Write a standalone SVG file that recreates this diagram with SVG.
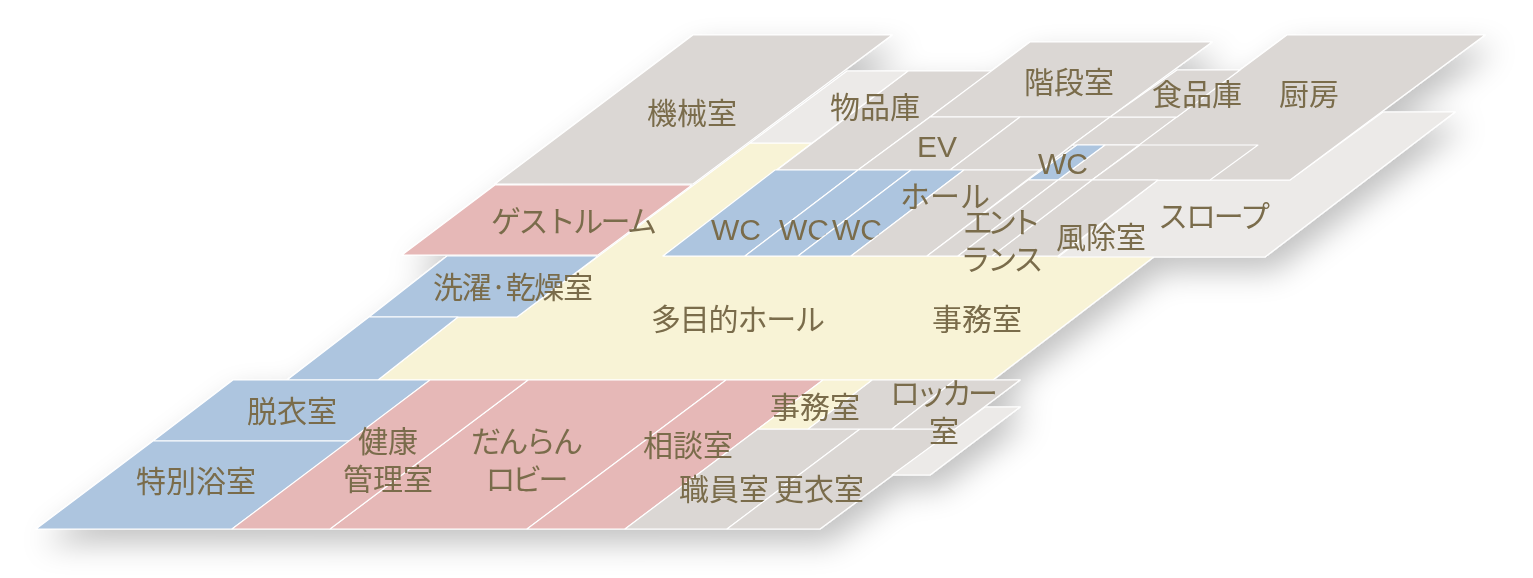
<svg xmlns="http://www.w3.org/2000/svg" width="1533" height="578" viewBox="0 0 1533 578">
<style>
polygon{stroke:#fff;stroke-width:1.1;stroke-linejoin:round}
.g{fill:#dbd7d4}.l{fill:#eceae8}.y{fill:#f8f3d6}.b{fill:#adc5df}.p{fill:#e6b8b7}
text{font-family:"Noto Sans CJK JP","Noto Sans",sans-serif;font-size:30px;fill:#7a6c4b;text-anchor:middle}
text.lat{font-family:"Liberation Sans",Arial,sans-serif}
</style>
<defs>
<filter id="sh" filterUnits="userSpaceOnUse" x="0" y="0" width="1533" height="578">
<feDropShadow dx="9" dy="14" stdDeviation="15" flood-color="#000" flood-opacity="0.24"/>
</filter>
</defs>
<rect width="1533" height="578" fill="#fff"/>
<g id="plan" filter="url(#sh)">
<g id="room-hall-main"><polygon class="y" points="750,143 812,143 663,256 1155,256 993,380 378,380 458,317 517,317"/><text x="738" y="330" textLength="174">多目的ホール</text><text x="977" y="330">事務室</text></g>
<g id="room-machine"><polygon class="g" points="693,35 892,35 693,184 495,184"/><text x="692" y="124">機械室</text></g>
<g id="room-storage"><polygon class="g" points="908,71 992,71 858,170 777,170"/><polygon class="l" points="847,71 908,71 812,143 750,143"/><text x="875" y="118">物品庫</text></g>
<g id="room-stairs"><polygon class="g" points="1030,42 1212,42 1110,117 930,117"/><text x="1069" y="93">階段室</text></g>
<g id="room-ev"><polygon class="g" points="930,117 1020,117 950,170 858,170"/><text class="lat" x="937" y="157">EV</text></g>
<g id="room-service"><polygon class="g" points="1020,117 1110,117 1072,145 1040,170 950,170"/><polygon class="g" points="1110,117 1177,117 1140,145 1072,145"/><polygon class="g" points="1105,145 1140,145 1092,180 1058,180"/></g>
<g id="room-slope"><polygon class="l" points="1290,180 1383,112 1455,112 1265,257 1058,257 1158,180"/><text x="1214" y="227" textLength="112">スロープ</text></g>
<g id="room-kitchen"><polygon class="g" points="1287,35 1485,35 1290,180 1092,180"/><polygon class="g" points="1140,145 1258,145 1210,180 1092,180"/><text x="1309" y="105">厨房</text></g>
<g id="room-pantry"><polygon class="g" points="1177,70 1240,70 1177,117 1110,117"/><text x="1197" y="105">食品庫</text></g>
<g id="room-wc-upper"><polygon class="b" points="1077,145 1105,145 1058,180 1028,180"/><text class="lat" x="1063" y="174">WC</text></g>
<g id="room-wc1"><polygon class="b" points="775,170 858,170 745,256 663,256"/><text class="lat" x="736" y="240">WC</text></g>
<g id="room-wc2"><polygon class="b" points="858,170 911,170 798,256 745,256"/><text class="lat" x="804" y="240">WC</text></g>
<g id="room-wc3"><polygon class="b" points="911,170 964,170 851,256 798,256"/><text class="lat" x="857" y="240">WC</text></g>
<g id="room-hall"><polygon class="g" points="964,170 1040,170 927,256 851,256"/><text x="945" y="207">ホール</text></g>
<g id="room-windbreak"><polygon class="g" points="1092,180 1158,180 1058,256 992,256"/><text x="1101" y="248">風除室</text></g>
<g id="room-entrance"><polygon class="g" points="1028,180 1058,180 958,256 927,256"/><polygon class="g" points="1058,180 1092,180 992,256 958,256"/><text x="1002" y="233" textLength="78">エント</text><text x="1002" y="270" textLength="83">ランス</text></g>
<g id="room-guest"><polygon class="p" points="495,185 692,185 598,255 402,255"/><text x="574" y="232" textLength="166">ゲストルーム</text></g>
<g id="room-laundry"><polygon class="b" points="447,256 598,256 517,317 369,317"/><text x="513" y="298" textLength="160">洗濯·乾燥室</text></g>
<g id="room-corridor"><polygon class="b" points="369,317 458,317 378,380 287,380"/></g>
<g id="room-changing"><polygon class="b" points="233,380 430,380 350,441 153,441"/><text x="292" y="422">脱衣室</text></g>
<g id="room-bath"><polygon class="b" points="153,441 350,441 232,529 36,529"/><text x="196" y="492">特別浴室</text></g>
<g id="room-lobby"><polygon class="p" points="528,380 726,380 527,529 330,529"/><text x="527" y="452" textLength="112">だんらん</text><text x="527" y="490" textLength="83">ロビー</text></g>
<g id="room-health"><polygon class="p" points="430,380 528,380 330,529 232,529"/><text x="388" y="452">健康</text><text x="388" y="490">管理室</text></g>
<g id="room-consult"><polygon class="p" points="726,380 823,380 758,429 625,529 527,529"/>
<g id="room-staff"><polygon class="g" points="758,429 860,429 727,529 625,529"/><text x="724" y="500">職員室</text></g>
<text x="688" y="456">相談室</text></g>
<g id="room-locker2"><polygon class="g" points="860,429 955,429 820,529 727,529"/><text x="819" y="500">更衣室</text></g>
<g id="room-office"><polygon class="g" points="872,380 955,380 892,429 808,429"/><polygon class="y" points="823,380 872,380 808,429 758,429"/><text x="815" y="418">事務室</text></g>
<g id="room-locker"><polygon class="l" points="985,407 1020,407 930,475 892,475"/><polygon class="g" points="955,380 1020,380 955,429 892,429"/><text x="944" y="404" textLength="108">ロッカー</text><text x="944" y="442">室</text></g>
</g>
</svg>
